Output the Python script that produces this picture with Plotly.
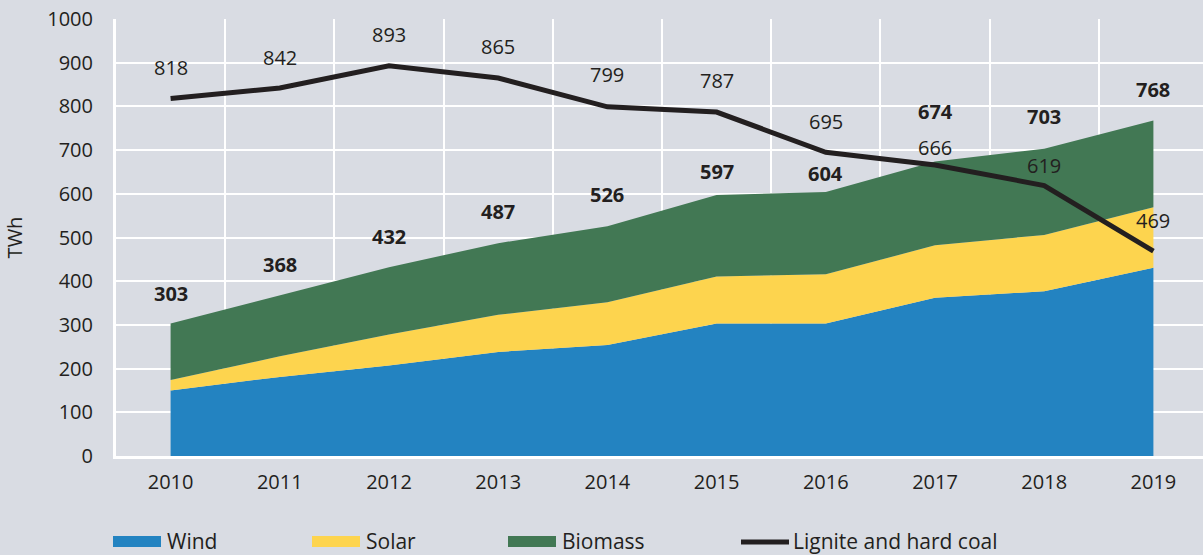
import plotly.graph_objects as go

years = ["2010", "2011", "2012", "2013", "2014", "2015", "2016", "2017", "2018", "2019"]
wind = [150, 181, 207, 238, 254, 303, 303, 362, 377, 431]
solar = [24, 47, 71, 85, 98, 108, 113, 120, 129, 138]
biomass = [129, 140, 154, 164, 174, 186, 188, 192, 197, 199]
totals = [303, 368, 432, 487, 526, 597, 604, 674, 703, 768]
coal = [818, 842, 893, 865, 799, 787, 695, 666, 619, 469]

# label pixel offsets (styling)
total_shift = [30, 31, 31, 32, 32, 24, 19, 50, 32, 31]
coal_shift = [31, 31, 31, 32, 32, 32, 31, 17, 20, 31]

BG = "#D9DCE3"
C_WIND = "#2383C1"
C_SOLAR = "#FDD44E"
C_BIO = "#427854"
C_COAL = "#231F20"
TXT = "#231F20"
FONT = "Open Sans"

fig = go.Figure()
for name, vals, col in [("Wind", wind, C_WIND), ("Solar", solar, C_SOLAR), ("Biomass", biomass, C_BIO)]:
    fig.add_trace(go.Scatter(x=years, y=vals, name=name, mode="lines", stackgroup="one",
                             line=dict(width=0, color=col), fillcolor=col, showlegend=False,
                             hoverinfo="x+y+name"))
fig.add_trace(go.Scatter(x=years, y=coal, name="Lignite and hard coal", mode="lines",
                         line=dict(width=5, color=C_COAL), showlegend=False))

ann = []
for i, (v, s) in enumerate(zip(totals, total_shift)):
    ann.append(dict(x=i, y=v, yshift=s, text=f"<b>{v}</b>", showarrow=False,
                    font=dict(size=20, color=TXT, family=FONT)))
for i, (v, s) in enumerate(zip(coal, coal_shift)):
    ann.append(dict(x=i, y=v, yshift=s, text=str(v), showarrow=False,
                    font=dict(size=20, color=TXT, family=FONT)))

# manual legend
L, W, T, H = 116, 1087, 19, 437
def px(x):
    return (x - L) / W
def py(y):
    return (T + H - y) / H

shapes = []
legend_items = [("Wind", C_WIND, 113, "rect"), ("Solar", C_SOLAR, 312, "rect"),
                ("Biomass", C_BIO, 508, "rect"), ("Lignite and hard coal", C_COAL, 739, "line")]
for name, col, x0, kind in legend_items:
    if kind == "rect":
        shapes.append(dict(type="rect", xref="paper", yref="paper", x0=px(x0), x1=px(x0 + 48),
                           y0=py(547), y1=py(536), fillcolor=col, line=dict(width=0)))
    else:
        shapes.append(dict(type="line", xref="paper", yref="paper", x0=px(x0 + 2), x1=px(x0 + 50),
                           y0=py(542), y1=py(542), line=dict(color=col, width=5)))
    ann.append(dict(xref="paper", yref="paper", x=px(x0 + 52), y=py(541), xanchor="left",
                    yanchor="middle", text=name, showarrow=False,
                    font=dict(size=21, color=TXT, family=FONT)))

fig.update_layout(
    width=1203, height=555,
    margin=dict(l=L, r=0, t=T, b=555 - T - H),
    paper_bgcolor=BG, plot_bgcolor=BG,
    font=dict(family=FONT, color=TXT, size=20),
    annotations=ann, shapes=shapes, showlegend=False,
    xaxis=dict(type="category", range=[-0.5, -0.5 + 1087 / 109.2], tickson="boundaries",
               showgrid=True, gridcolor="white", gridwidth=2, ticks="", showline=True,
               linecolor="white", linewidth=3, tickfont=dict(size=20, color=TXT),
               ticklabelstandoff=6, zeroline=False, automargin=False),
    yaxis=dict(range=[0, 1000], dtick=100, showgrid=True, gridcolor="white", gridwidth=2,
               showline=True, linecolor="white", linewidth=3, ticks="",
               tickfont=dict(size=20, color=TXT), ticklabelstandoff=16, zeroline=False,
               automargin=False,
               title=dict(text="TWh", font=dict(size=20, color=TXT), standoff=20)),
)
fig.write_html("out.html", config={"displayModeBar": False},
               post_script="document.body.style.margin='0';document.body.style.padding='0';"
                           "document.body.style.background='#D9DCE3';"
                           "document.body.style.overflow='hidden';")
